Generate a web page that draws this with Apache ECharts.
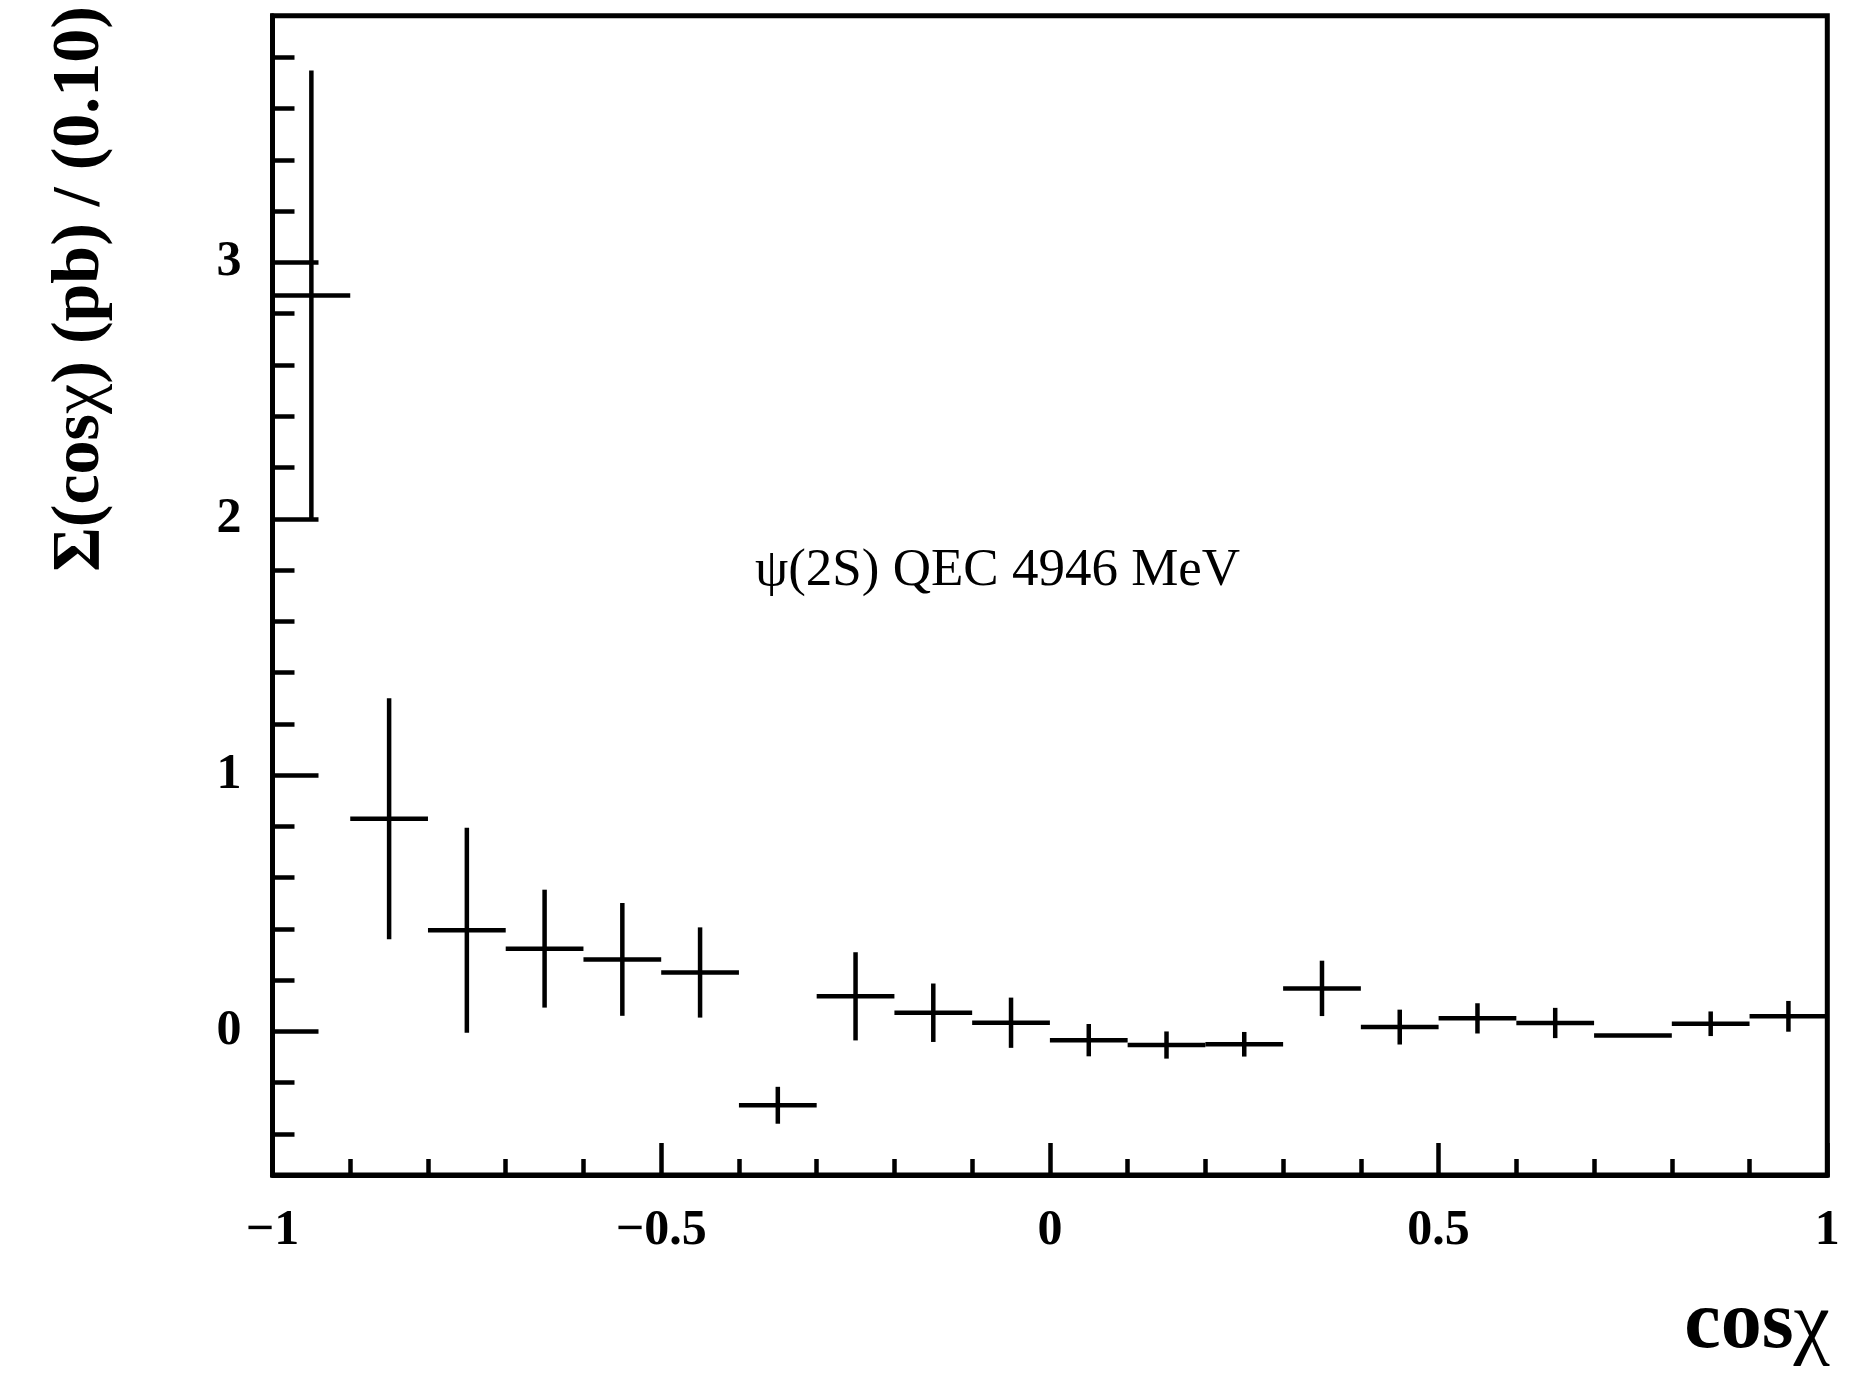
<!DOCTYPE html>
<html>
<head>
<meta charset="utf-8">
<title>Σ(cosχ) distribution</title>
<script src="https://cdn.jsdelivr.net/npm/echarts@6/dist/echarts.min.js"></script>
<style>
  html, body { margin: 0; padding: 0; background: #fff; }
  #chart { width: 1876px; height: 1375px; }
</style>
</head>
<body>
<div id="chart"></div>
<script>
// Bin centres in cosχ (bins of width 0.10 from -1 to 1)
const binCenters = [-0.95, -0.85, -0.75, -0.65, -0.55, -0.45, -0.35, -0.25, -0.15, -0.05,
                     0.05,  0.15,  0.25,  0.35,  0.45,  0.55,  0.65,  0.75,  0.85,  0.95];
const binWidth = 0.1;
// Σ(cosχ) in pb per bin
const sigmaValues = [2.871, 0.830, 0.395, 0.323, 0.281, 0.230, -0.288, 0.137, 0.073, 0.034,
                     -0.034, -0.053, -0.050, 0.168, 0.017, 0.051, 0.033, -0.016, 0.030, 0.059];
// symmetric statistical errors
const sigmaErrors = [0.878, 0.470, 0.400, 0.230, 0.220, 0.176, 0.072, 0.172, 0.114, 0.098,
                     0.063, 0.053, 0.048, 0.108, 0.068, 0.059, 0.059, 0.000, 0.048, 0.060];

// axis ticks
const xMajorTicks = [-1, -0.5, 0, 0.5, 1];
const yMajorTicks = [0, 1, 2, 3];
const yMinorTicks = [-0.4, -0.2, 0.2, 0.4, 0.6, 0.8, 1.2, 1.4, 1.6, 1.8,
                     2.2, 2.4, 2.6, 2.8, 3.2, 3.4, 3.6, 3.8];
const yRange = [-0.56, 3.962];

const annotation = 'ψ(2S) QEC 4946 MeV';

const serif = '"Liberation Serif", "Times New Roman", serif';
const LW = 4.5;

const points = binCenters.map((c, i) => [c, sigmaValues[i], sigmaErrors[i]]);

const fmt = v => (v < 0 ? '\u2212' + String(-v) : String(v));

const chart = echarts.init(document.getElementById('chart'), null, { renderer: 'canvas' });

chart.setOption({
  backgroundColor: '#fff',
  animation: false,
  grid: {
    left: 272.5, right: 48.7, top: 15.8, bottom: 200,
    show: true, borderColor: '#000', borderWidth: 5, backgroundColor: 'transparent'
  },
  xAxis: {
    type: 'value', min: -1, max: 1, interval: 0.5,
    axisLine: { show: true, onZero: false, lineStyle: { color: '#000', width: 5 } },
    axisTick: { show: true, inside: true, length: 32, lineStyle: { color: '#000', width: LW } },
    minorTick: { show: true, splitNumber: 5, length: 16, lineStyle: { color: '#000', width: LW } },
    splitLine: { show: false },
    axisLabel: {
      show: true, margin: 31, color: '#000', fontFamily: serif, fontWeight: 'bold', fontSize: 50,
      customValues: xMajorTicks, formatter: v => fmt(v)
    }
  },
  yAxis: [
    {
      type: 'value', min: yRange[0], max: yRange[1],
      axisLine: { show: true, onZero: false, lineStyle: { color: '#000', width: 5 } },
      axisTick: { show: true, inside: true, length: 46, customValues: yMajorTicks,
                  lineStyle: { color: '#000', width: LW } },
      splitLine: { show: false },
      axisLabel: {
        show: true, margin: 31, color: '#000', fontFamily: serif, fontWeight: 'bold', fontSize: 50,
        customValues: yMajorTicks, formatter: v => fmt(v)
      }
    },
    {
      type: 'value', min: yRange[0], max: yRange[1], position: 'left',
      axisLine: { show: false, onZero: false },
      axisTick: { show: true, inside: true, length: 22, customValues: yMinorTicks,
                  lineStyle: { color: '#000', width: LW } },
      splitLine: { show: false },
      axisLabel: { show: false }
    }
  ],
  series: [{
    type: 'custom',
    xAxisIndex: 0, yAxisIndex: 0,
    data: points,
    renderItem: function (params, api) {
      const x = api.value(0), y = api.value(1), e = api.value(2);
      const l = api.coord([x - binWidth / 2, y]);
      const r = api.coord([x + binWidth / 2, y]);
      const children = [{
        type: 'line',
        shape: { x1: l[0], y1: l[1], x2: r[0], y2: r[1] },
        style: { stroke: '#000', lineWidth: LW }
      }];
      if (e > 0) {
        const t = api.coord([x, y + e]);
        const b = api.coord([x, y - e]);
        children.push({
          type: 'line',
          shape: { x1: t[0], y1: t[1], x2: b[0], y2: b[1] },
          style: { stroke: '#000', lineWidth: LW }
        });
      }
      return { type: 'group', children: children };
    }
  }],
  graphic: [
    {
      type: 'text', left: 755, top: 545,
      style: { text: annotation, fill: '#000', font: '53px ' + serif }
    },
    {
      type: 'text', x: 1830, y: 1326,
      style: {
        text: '{b|cos}{g|χ}', align: 'right', verticalAlign: 'middle',
        rich: {
          b: { fontFamily: serif, fontWeight: 'bold', fontSize: 82, fill: '#000' },
          g: { fontFamily: serif, fontWeight: 'normal', fontSize: 82, fill: '#000' }
        }
      }
    },
    {
      type: 'text', x: 80, y: 6, rotation: Math.PI / 2,
      style: {
        text: '{b|Σ(cos}{g|χ}{b|) (pb) / (0.10)}', align: 'right', verticalAlign: 'middle',
        rich: {
          b: { fontFamily: serif, fontWeight: 'bold', fontSize: 68, fill: '#000' },
          g: { fontFamily: serif, fontWeight: 'normal', fontSize: 68, fill: '#000' }
        }
      }
    }
  ]
});
</script>
</body>
</html>
